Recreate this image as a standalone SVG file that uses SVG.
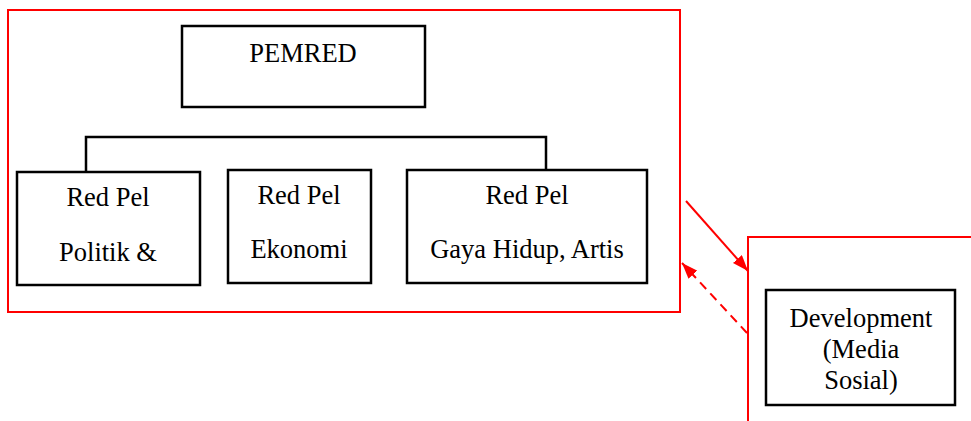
<svg xmlns="http://www.w3.org/2000/svg" width="971" height="421" viewBox="0 0 971 421">
<style>
.box{fill:#fff;stroke:#000;stroke-width:2.5}
.red{fill:none;stroke:#f00;stroke-width:2}
.t{font-family:"Liberation Serif","Times New Roman",serif;font-size:26.5px;fill:#000;text-anchor:middle}
.conn{fill:none;stroke:#000;stroke-width:2.5}
</style>
<defs>
<marker id="ah" viewBox="0 0 16 12" refX="16" refY="6" markerWidth="16" markerHeight="12" markerUnits="userSpaceOnUse" orient="auto">
<path d="M0,0 L16,6 L0,12 Z" fill="#f00"/>
</marker>
</defs>
<g id="frame-left"><rect class="red" x="8" y="10" width="672" height="302"/></g>
<g id="frame-right"><path class="red" d="M971,237 H748 V421"/></g>
<g id="connectors">
<path class="conn" d="M86,172 V137 H546 V170"/>
<line x1="686" y1="201" x2="748" y2="271" stroke="#f00" stroke-width="2" marker-end="url(#ah)"/>
<line x1="747" y1="333" x2="682" y2="263" stroke="#f00" stroke-width="2" stroke-dasharray="9,6" marker-end="url(#ah)"/>
</g>
<g id="pemred"><rect class="box" x="182" y="26" width="243" height="81"/><text class="t" x="303" y="62">PEMRED</text></g>
<g id="politik"><rect class="box" x="17" y="172" width="183" height="113"/><text class="t" x="108" y="206">Red Pel</text><text class="t" x="108" y="261">Politik &amp;</text></g>
<g id="ekonomi"><rect class="box" x="228" y="170" width="143" height="113"/><text class="t" x="299" y="204">Red Pel</text><text class="t" x="299" y="258">Ekonomi</text></g>
<g id="gaya"><rect class="box" x="407" y="170" width="240" height="113"/><text class="t" x="527" y="204">Red Pel</text><text class="t" x="527" y="258">Gaya Hidup, Artis</text></g>
<g id="development"><rect class="box" x="766" y="290" width="189" height="115"/><text class="t" x="861" y="327">Development</text><text class="t" x="861" y="358">(Media</text><text class="t" x="861" y="389">Sosial)</text></g>
</svg>
